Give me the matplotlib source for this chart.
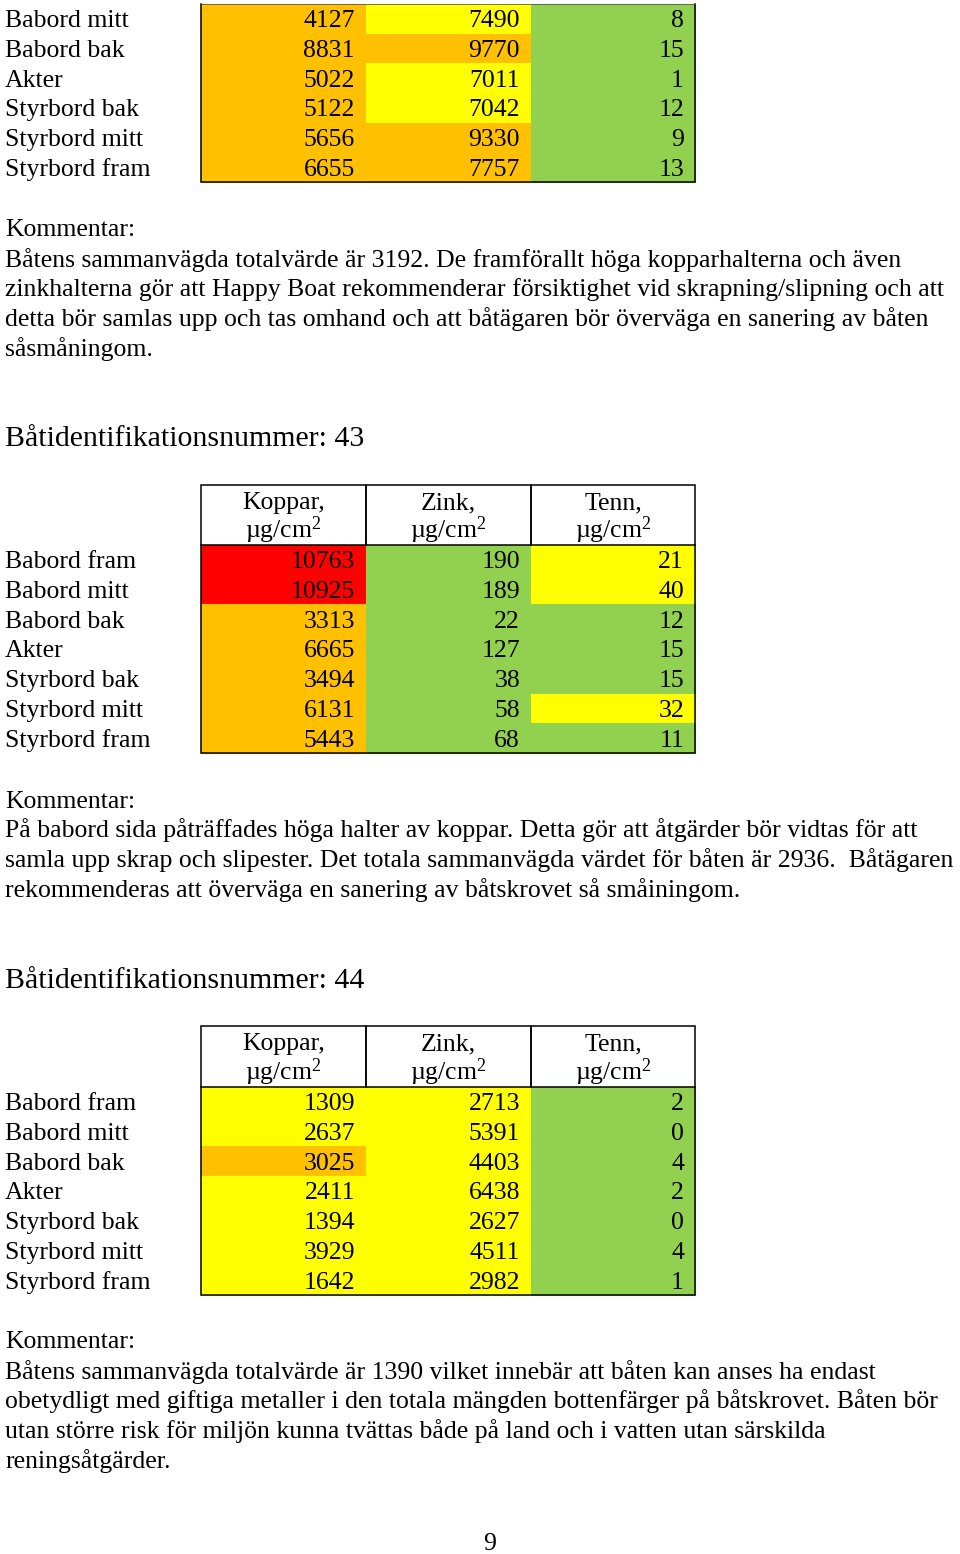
import matplotlib
matplotlib.use("Agg")
import matplotlib.pyplot as plt
from matplotlib.patches import Rectangle

plt.rcParams["font.family"] = ["Liberation Serif", "DejaVu Serif"]
plt.rcParams["mathtext.fontset"] = "custom"
plt.rcParams["mathtext.rm"] = "Liberation Serif"
plt.rcParams["mathtext.it"] = "Liberation Serif"

# --- data ---------------------------------------------------------------
metaller = ["Koppar,", "Zink,", "Tenn,"]
enhet = r"µg/cm$^{\mathrm{2}}$"

# båt 42 (tabellen fortsätter från föregående sida)
lagen_42 = ["Babord mitt", "Babord bak", "Akter", "Styrbord bak", "Styrbord mitt", "Styrbord fram"]
koppar_42 = [4127, 8831, 5022, 5122, 5656, 6655]
zink_42 = [7490, 9770, 7011, 7042, 9330, 7757]
tenn_42 = [8, 15, 1, 12, 9, 13]
koppar_nivå_42 = ["O", "O", "O", "O", "O", "O"]
zink_nivå_42 = ["Y", "O", "Y", "Y", "O", "O"]
tenn_nivå_42 = ["G", "G", "G", "G", "G", "G"]
kommentar_42 = [
    "Båtens sammanvägda totalvärde är 3192. De framförallt höga kopparhalterna och även",
    "zinkhalterna gör att Happy Boat rekommenderar försiktighet vid skrapning/slipning och att",
    "detta bör samlas upp och tas omhand och att båtägaren bör överväga en sanering av båten",
    "såsmåningom.",
]

lagen = ["Babord fram", "Babord mitt", "Babord bak", "Akter", "Styrbord bak", "Styrbord mitt", "Styrbord fram"]

koppar_43 = [10763, 10925, 3313, 6665, 3494, 6131, 5443]
zink_43 = [190, 189, 22, 127, 38, 58, 68]
tenn_43 = [21, 40, 12, 15, 15, 32, 11]
koppar_nivå_43 = ["R", "R", "O", "O", "O", "O", "O"]
zink_nivå_43 = ["G", "G", "G", "G", "G", "G", "G"]
tenn_nivå_43 = ["Y", "Y", "G", "G", "G", "Y", "G"]
kommentar_43 = [
    "På babord sida påträffades höga halter av koppar. Detta gör att åtgärder bör vidtas för att",
    "samla upp skrap och slipester. Det totala sammanvägda värdet för båten är 2936.  Båtägaren",
    "rekommenderas att överväga en sanering av båtskrovet så småiningom.",
]

koppar_44 = [1309, 2637, 3025, 2411, 1394, 3929, 1642]
zink_44 = [2713, 5391, 4403, 6438, 2627, 4511, 2982]
tenn_44 = [2, 0, 4, 2, 0, 4, 1]
koppar_nivå_44 = ["Y", "Y", "O", "Y", "Y", "Y", "Y"]
zink_nivå_44 = ["Y", "Y", "Y", "Y", "Y", "Y", "Y"]
tenn_nivå_44 = ["G", "G", "G", "G", "G", "G", "G"]
kommentar_44 = [
    "Båtens sammanvägda totalvärde är 1390 vilket innebär att båten kan anses ha endast",
    "obetydligt med giftiga metaller i den totala mängden bottenfärger på båtskrovet. Båten bör",
    "utan större risk för miljön kunna tvättas både på land och i vatten utan särskilda",
    "reningsåtgärder.",
]

färger = {"R": "#FF0000", "O": "#FFC000", "Y": "#FFFF00", "G": "#92D050"}

# --- layout -------------------------------------------------------------
W, H = 960, 1554
col_x = [201, 366, 531, 695]
row_h = 29.7
fs_body = 18.5
fs_head = 21.5
base_off = 8.5  # baseline below row centre

fig = plt.figure(figsize=(W / 100, H / 100), dpi=100)
ax = fig.add_axes([0, 0, 1, 1])
ax.set_xlim(0, W)
ax.set_ylim(H, 0)
ax.axis("off")


def rad(y, s, x=5, ha="left", fs=fs_body):
    ax.text(x, y + base_off, s, ha=ha, va="baseline", fontsize=fs, color="black", zorder=5)


def tabell(top, header_h, labels, kolumner, nivåer, header=True, top_line=False):
    y0 = top + header_h
    if header:
        for j, namn in enumerate(metaller):
            cx = (col_x[j] + col_x[j + 1]) / 2
            rad(top + header_h * 0.26, namn, x=cx, ha="center")
            rad(top + header_h * 0.74, enhet, x=cx, ha="center")
            ax.add_patch(Rectangle((col_x[j], top), col_x[j + 1] - col_x[j], header_h,
                                   facecolor="none", edgecolor="black", lw=1.1, zorder=3))
    for i, lab in enumerate(labels):
        yc = y0 + (i + 0.5) * row_h
        rad(yc, lab)
        for j in range(3):
            c = färger[nivåer[j][i]]
            ax.add_patch(Rectangle((col_x[j], y0 + i * row_h), col_x[j + 1] - col_x[j], row_h,
                                   facecolor=c, edgecolor=c, lw=0.8, zorder=1))
            rad(yc, str(kolumner[j][i]), x=col_x[j + 1] - 11, ha="right")
    y1 = y0 + len(labels) * row_h
    ax.plot([col_x[0], col_x[0], col_x[3], col_x[3]], [y0, y1, y1, y0],
            color="black", lw=1.1, zorder=4, solid_joinstyle="miter")
    if top_line:
        ax.plot([col_x[0], col_x[3]], [y0, y0], color="#444444", lw=0.5, zorder=4)


# båt 42 (fortsättning)
tabell(4, 0, lagen_42, [koppar_42, zink_42, tenn_42],
       [koppar_nivå_42, zink_nivå_42, tenn_nivå_42], header=False, top_line=True)
rad(228, "Kommentar:")
for k, s in enumerate(kommentar_42):
    rad(258 + k * 29.7, s)

# båt 43
rad(438, "Båtidentifikationsnummer: 43", fs=fs_head)
tabell(485, 60, lagen, [koppar_43, zink_43, tenn_43],
       [koppar_nivå_43, zink_nivå_43, tenn_nivå_43])
rad(799, "Kommentar:")
for k, s in enumerate(kommentar_43):
    rad(829 + k * 29.7, s)

# båt 44
rad(979, "Båtidentifikationsnummer: 44", fs=fs_head)
tabell(1026, 61, lagen, [koppar_44, zink_44, tenn_44],
       [koppar_nivå_44, zink_nivå_44, tenn_nivå_44])
rad(1340, "Kommentar:")
for k, s in enumerate(kommentar_44):
    rad(1370 + k * 29.7, s)

rad(1542, "9", x=490, ha="center")

fig.savefig("out.png", dpi=100, facecolor="white")
